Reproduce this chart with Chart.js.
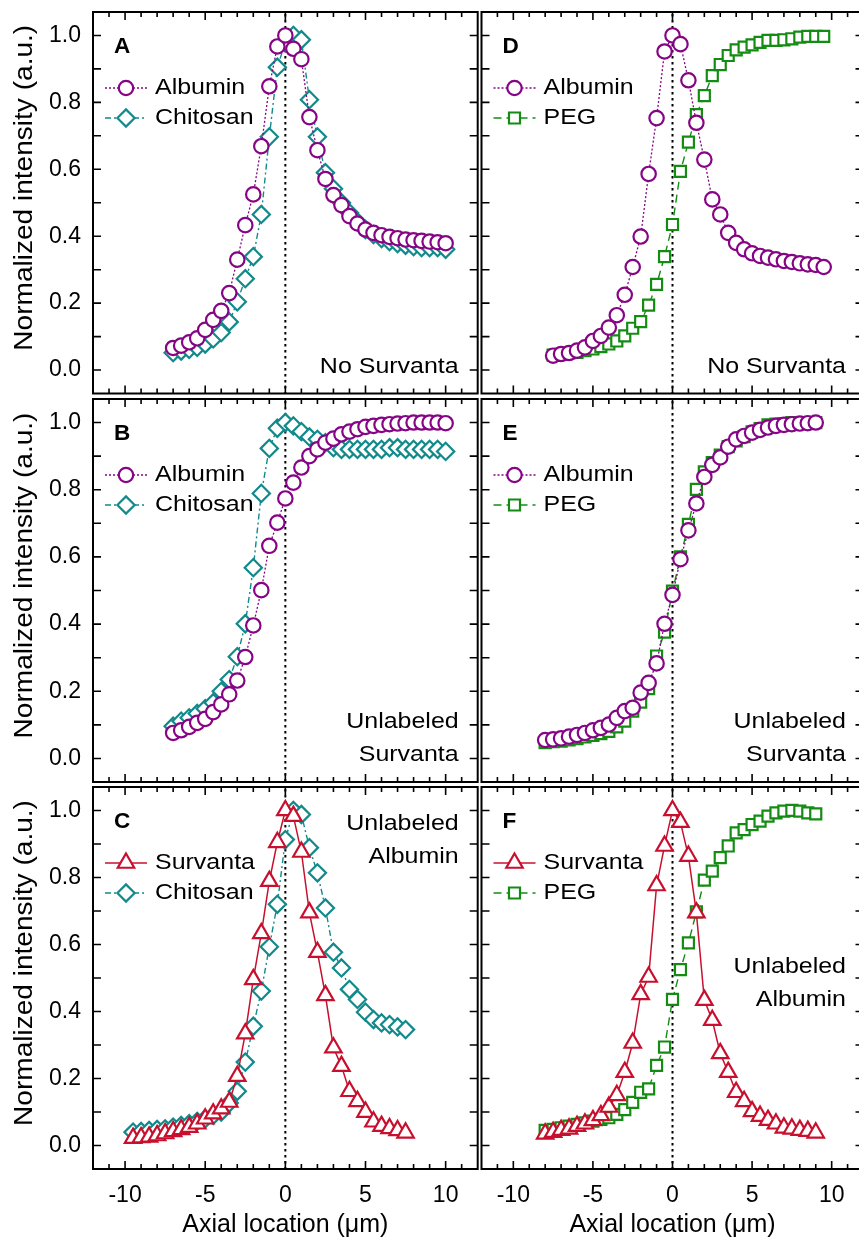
<!DOCTYPE html>
<html><head><meta charset="utf-8">
<script src="https://cdn.jsdelivr.net/npm/chart.js@4/dist/chart.umd.min.js"></script>
<style>
html,body{margin:0;padding:0;background:#fff;overflow:hidden;width:859px;height:1241px;position:relative;}
canvas{position:absolute;}
</style></head><body>
<canvas id="cA"></canvas><canvas id="cB"></canvas><canvas id="cC"></canvas>
<canvas id="cD"></canvas><canvas id="cE"></canvas><canvas id="cF"></canvas>
<script>
// ---------------- data ----------------
const xLabelVals = [-10, -5, 0, 5, 10];
const yLabelVals = [0, 0.2, 0.4, 0.6, 0.8, 1.0];
const xTickVals = [-11,-10,-9,-8,-7,-6,-5,-4,-3,-2,-1,0,1,2,3,4,5,6,7,8,9,10,11];
const yTickVals = [0,0.1,0.2,0.3,0.4,0.5,0.6,0.7,0.8,0.9,1.0];

const xA = [-7,-6.5,-6,-5.5,-5,-4.5,-4,-3.5,-3,-2.5,-2,-1.5,-1,-0.5,0,0.5,1,1.5,2,2.5,3,3.5,4,4.5,5,5.5,6,6.5,7,7.5,8,8.5,9,9.5,10];
const albuminA = [0.066,0.073,0.083,0.095,0.12,0.15,0.177,0.23,0.33,0.433,0.525,0.669,0.848,0.967,1.0,0.96,0.929,0.756,0.657,0.571,0.523,0.493,0.46,0.438,0.42,0.41,0.403,0.398,0.394,0.39,0.388,0.386,0.384,0.382,0.379];
const chitosanA = [0.052,0.057,0.062,0.068,0.078,0.093,0.112,0.144,0.204,0.273,0.339,0.465,0.697,0.905,0.98,1.0,0.987,0.808,0.697,0.59,0.542,0.5,0.47,0.443,0.42,0.405,0.393,0.384,0.378,0.373,0.369,0.366,0.366,0.366,0.361];

const xB = [-7,-6.5,-6,-5.5,-5,-4.5,-4,-3.5,-3,-2.5,-2,-1.5,-1,-0.5,0,0.5,1,1.5,2,2.5,3,3.5,4,4.5,5,5.5,6,6.5,7,7.5,8,8.5,9,9.5,10];
const albuminB = [0.076,0.084,0.094,0.106,0.118,0.138,0.161,0.191,0.232,0.302,0.396,0.501,0.633,0.702,0.774,0.821,0.866,0.9,0.92,0.94,0.952,0.965,0.973,0.98,0.987,0.99,0.993,0.995,0.997,0.998,1.0,1.0,1.0,1.0,0.998];
const chitosanB = [0.096,0.111,0.121,0.134,0.148,0.166,0.2,0.235,0.303,0.401,0.568,0.789,0.923,0.983,1.0,0.99,0.973,0.957,0.95,0.94,0.925,0.92,0.92,0.92,0.92,0.92,0.92,0.925,0.925,0.92,0.92,0.92,0.92,0.92,0.914];

const xC = [-9.5,-9,-8.5,-8,-7.5,-7,-6.5,-6,-5.5,-5,-4.5,-4,-3.5,-3,-2.5,-2,-1.5,-1,-0.5,0,0.5,1,1.5,2,2.5,3,3.5,4,4.5,5,5.5,6,6.5,7,7.5];
const survantaC = [0.022,0.024,0.026,0.03,0.036,0.042,0.048,0.055,0.065,0.08,0.095,0.11,0.13,0.207,0.334,0.496,0.633,0.789,0.905,1.0,0.983,0.876,0.695,0.577,0.448,0.292,0.237,0.162,0.132,0.1,0.071,0.058,0.051,0.045,0.038];
const chitosanC = [0.04,0.042,0.045,0.048,0.05,0.055,0.06,0.065,0.072,0.08,0.09,0.1,0.127,0.162,0.249,0.356,0.461,0.593,0.72,0.913,1.0,0.988,0.889,0.814,0.709,0.577,0.53,0.466,0.436,0.398,0.376,0.366,0.361,0.354,0.346];

const xD = [-7.5,-7,-6.5,-6,-5.5,-5,-4.5,-4,-3.5,-3,-2.5,-2,-1.5,-1,-0.5,0,0.5,1,1.5,2,2.5,3,3.5,4,4.5,5,5.5,6,6.5,7,7.5,8,8.5,9,9.5];
const albuminD = [0.043,0.048,0.051,0.058,0.068,0.087,0.102,0.127,0.164,0.225,0.308,0.399,0.586,0.753,0.952,1.0,0.974,0.866,0.739,0.629,0.51,0.465,0.41,0.38,0.361,0.349,0.341,0.336,0.331,0.326,0.323,0.319,0.316,0.314,0.308];
const pegD = [0.045,0.048,0.051,0.053,0.058,0.063,0.07,0.078,0.087,0.102,0.125,0.145,0.194,0.256,0.339,0.435,0.594,0.681,0.763,0.82,0.88,0.913,0.94,0.957,0.965,0.972,0.979,0.985,0.985,0.987,0.99,0.995,0.997,0.997,0.997];

const xE = [-8,-7.5,-7,-6.5,-6,-5.5,-5,-4.5,-4,-3.5,-3,-2.5,-2,-1.5,-1,-0.5,0,0.5,1,1.5,2,2.5,3,3.5,4,4.5,5,5.5,6,6.5,7,7.5,8,8.5,9];
const albuminE = [0.055,0.057,0.06,0.065,0.07,0.076,0.084,0.091,0.101,0.121,0.141,0.151,0.196,0.225,0.283,0.401,0.487,0.593,0.679,0.759,0.838,0.874,0.896,0.928,0.95,0.96,0.97,0.978,0.985,0.99,0.993,0.995,0.997,0.998,1.0];
const pegE = [0.047,0.05,0.052,0.055,0.059,0.064,0.069,0.074,0.081,0.094,0.111,0.141,0.168,0.208,0.305,0.376,0.498,0.6,0.697,0.801,0.853,0.881,0.903,0.928,0.945,0.958,0.972,0.982,0.993,0.995,0.997,1.0,1.0,0.998,1.0];

const xF = [-8,-7.5,-7,-6.5,-6,-5.5,-5,-4.5,-4,-3.5,-3,-2.5,-2,-1.5,-1,-0.5,0,0.5,1,1.5,2,2.5,3,3.5,4,4.5,5,5.5,6,6.5,7,7.5,8,8.5,9];
const survantaF = [0.035,0.04,0.046,0.05,0.058,0.065,0.075,0.09,0.115,0.15,0.219,0.306,0.451,0.503,0.776,0.894,1.0,0.965,0.864,0.695,0.434,0.374,0.275,0.219,0.159,0.132,0.102,0.088,0.076,0.065,0.053,0.05,0.046,0.043,0.038];
const pegF = [0.045,0.048,0.053,0.058,0.063,0.068,0.073,0.078,0.083,0.093,0.107,0.129,0.159,0.169,0.239,0.294,0.436,0.525,0.605,0.697,0.792,0.819,0.859,0.894,0.933,0.943,0.958,0.968,0.983,0.993,0.998,1.0,0.998,0.993,0.99];

// ---------------- styles ----------------
const FONT = '"Liberation Sans", Arial, Helvetica, sans-serif';
const STY = {
  'Albumin':  {color:'#850585', ps:'circle',   r:7.2, dash:[2,2],      lw:1.3},
  'Chitosan': {color:'#12898a', ps:'rectRot',  r:8.6, dash:[6,3,2,3],  lw:1.4},
  'PEG':      {color:'#148c14', ps:'rect',     r:7.8, dash:[8,5],      lw:1.4},
  'Survanta': {color:'#c8102e', ps:'triangle', r:9.5, dash:[],         lw:1.5}
};
function series(label, xs, ys) {
  const s = STY[label];
  return {
    label, data: xs.map((x, i) => ({x, y: ys[i]})), showLine: true, tension: 0, fill: false,
    borderColor: s.color, borderWidth: s.lw, borderDash: s.dash,
    pointStyle: s.ps, pointRadius: s.r, pointHoverRadius: s.r, pointBorderWidth: 2.2,
    pointBorderColor: s.color, pointBackgroundColor: '#ffffff'
  };
}

function drawMarker(ctx, d, x, y) {
  const opts = {pointStyle: d.pointStyle, radius: d.pointRadius, borderWidth: d.pointBorderWidth, rotation: 0};
  if (Chart.helpers && Chart.helpers.drawPoint) { Chart.helpers.drawPoint(ctx, opts, x, y); return; }
  ctx.beginPath(); ctx.arc(x, y, d.pointRadius, 0, Math.PI * 2); ctx.fill(); ctx.stroke();
}
function txt(ctx, s, x, y, font, align, sx) {
  ctx.save(); ctx.font = font; ctx.textAlign = align; ctx.textBaseline = 'alphabetic';
  ctx.fillStyle = '#000'; ctx.translate(x, y); ctx.scale(sx, 1); ctx.fillText(s, 0, 0); ctx.restore();
}
function noPad(s) { s.paddingTop = 0; s.paddingBottom = 0; s.paddingLeft = 0; s.paddingRight = 0; }

const deco = {
  id: 'panelDeco',
  beforeDatasetsDraw(chart) {
    const ctx = chart.ctx, a = chart.chartArea;
    const px = chart.scales.x.getPixelForValue(0);
    ctx.save(); ctx.strokeStyle = '#000'; ctx.lineWidth = 2; ctx.setLineDash([2.5, 3.5]);
    ctx.beginPath(); ctx.moveTo(px, a.top + 2); ctx.lineTo(px, a.bottom); ctx.stroke(); ctx.restore();
  },
  afterDraw(chart, args, o) {
    const ctx = chart.ctx, a = chart.chartArea, xs = chart.scales.x, ys = chart.scales.y;
    ctx.save();
    ctx.strokeStyle = '#000'; ctx.lineWidth = 1.6; ctx.setLineDash([]);
    ctx.beginPath();
    xTickVals.forEach(v => {
      const p = xs.getPixelForValue(v), len = (v % 5 === 0) ? 8 : 5;
      ctx.moveTo(p, a.bottom); ctx.lineTo(p, a.bottom - len);
      ctx.moveTo(p, a.top); ctx.lineTo(p, a.top + len);
    });
    yTickVals.forEach(v => {
      const p = ys.getPixelForValue(v);
      ctx.moveTo(a.left, p); ctx.lineTo(a.left + 8, p);
      ctx.moveTo(a.right, p); ctx.lineTo(a.right - 8, p);
    });
    ctx.stroke();
    ctx.lineWidth = 2;
    ctx.strokeRect(a.left, a.top, a.right - a.left, a.bottom - a.top);
    ctx.restore();

    // legend
    chart.data.datasets.forEach((d, i) => {
      const y = a.top + 76 + i * 30;
      ctx.save();
      ctx.strokeStyle = d.borderColor; ctx.lineWidth = d.borderWidth; ctx.setLineDash(d.borderDash);
      ctx.beginPath(); ctx.moveTo(a.left + 12, y); ctx.lineTo(a.left + 54, y); ctx.stroke();
      ctx.setLineDash([]); ctx.fillStyle = '#fff'; ctx.strokeStyle = d.pointBorderColor; ctx.lineWidth = d.pointBorderWidth;
      drawMarker(ctx, d, a.left + 33, y);
      ctx.restore();
      txt(ctx, d.label, a.left + 62, y + 6, '22.5px ' + FONT, 'left', 1.11);
    });

    // panel letter
    txt(ctx, o.letter, a.left + 21, a.top + 41, 'bold 21.5px ' + FONT, 'left', 1.05);

    // notes
    o.notes.forEach(n => {
      const y = n.ref === 'top' ? a.top + n.dy : a.bottom - n.dy;
      txt(ctx, n.text, a.right - o.noteRight, y, '22.5px ' + FONT, 'right', 1.11);
    });

    // y title
    if (o.yTitle) {
      ctx.save(); ctx.fillStyle = '#000'; ctx.font = '25.5px ' + FONT; ctx.textAlign = 'center'; ctx.textBaseline = 'alphabetic';
      ctx.translate(32, (a.top + a.bottom) / 2 - 15); ctx.rotate(-Math.PI / 2); ctx.scale(1.1, 1);
      ctx.fillText('Normalized intensity (a.u.)', 0, 0); ctx.restore();
    }
  }
};

function makeChart(id, cfg) {
  const c = document.getElementById(id);
  c.width = cfg.w; c.height = cfg.h;
  c.style.left = cfg.l + 'px'; c.style.top = cfg.t + 'px';
  c.style.width = cfg.w + 'px'; c.style.height = cfg.h + 'px';
  new Chart(c, {
    type: 'scatter',
    data: {datasets: cfg.datasets},
    options: {
      responsive: false, animation: false, devicePixelRatio: 1,
      layout: {padding: cfg.pad, autoPadding: false},
      plugins: {legend: {display: false}, tooltip: {enabled: false}, panelDeco: cfg.deco},
      scales: {
        x: {
          type: 'linear', min: -12, max: 12, display: cfg.showX,
          grid: {display: false, drawTicks: false}, border: {display: false},
          afterBuildTicks: s => { s.ticks = xLabelVals.map(v => ({value: v})); },
          afterFit: s => { noPad(s); if (cfg.showX) s.height = 72; },
          ticks: {font: {family: FONT, size: 23}, color: '#000', padding: 13, maxRotation: 0, autoSkip: false, callback: v => String(v)},
          title: {display: cfg.showX, text: 'Axial location (μm)', font: {family: FONT, size: 25}, color: '#000', padding: {top: 0, bottom: 1}}
        },
        y: {
          type: 'linear', min: -0.07, max: 1.07, display: cfg.showY,
          grid: {display: false, drawTicks: false}, border: {display: false},
          afterBuildTicks: s => { s.ticks = yLabelVals.map(v => ({value: v})); },
          afterFit: s => { noPad(s); if (cfg.showY) s.width = 93; },
          ticks: {font: {family: FONT, size: 23}, color: '#000', padding: 12, autoSkip: false, callback: v => Number(v).toFixed(1)}
        }
      }
    },
    plugins: [deco]
  });
}

const COLL = {l: 0, w: 480, left: 0, right: 2.3, showY: true, noteRight: 19};
const COLR = {l: 480, w: 386, left: 1.5, right: 2.5, showY: false, noteRight: 17.5};
const ROWS = [
  {t: 0, h: 396, top: 12, bottom: 2.5, showX: false},
  {t: 396, h: 388, top: 3, bottom: 2, showX: false},
  {t: 784, h: 457, top: 3, bottom: 0, showX: true}
];
function panel(id, col, row, datasets, letter, notes) {
  makeChart(id, {
    l: col.l, w: col.w, t: row.t, h: row.h, showX: row.showX, showY: col.showY,
    pad: {left: col.left, right: col.right, top: row.top, bottom: row.bottom},
    datasets,
    deco: {letter, notes, noteRight: col.noteRight, yTitle: col.showY}
  });
}

panel('cA', COLL, ROWS[0], [series('Albumin', xA, albuminA), series('Chitosan', xA, chitosanA)], 'A',
  [{text: 'No Survanta', ref: 'bottom', dy: 21}]);
panel('cB', COLL, ROWS[1], [series('Albumin', xB, albuminB), series('Chitosan', xB, chitosanB)], 'B',
  [{text: 'Unlabeled', ref: 'bottom', dy: 54}, {text: 'Survanta', ref: 'bottom', dy: 21.5}]);
panel('cC', COLL, ROWS[2], [series('Survanta', xC, survantaC), series('Chitosan', xC, chitosanC)], 'C',
  [{text: 'Unlabeled', ref: 'top', dy: 42.5}, {text: 'Albumin', ref: 'top', dy: 75.5}]);
panel('cD', COLR, ROWS[0], [series('Albumin', xD, albuminD), series('PEG', xD, pegD)], 'D',
  [{text: 'No Survanta', ref: 'bottom', dy: 21}]);
panel('cE', COLR, ROWS[1], [series('Albumin', xE, albuminE), series('PEG', xE, pegE)], 'E',
  [{text: 'Unlabeled', ref: 'bottom', dy: 54}, {text: 'Survanta', ref: 'bottom', dy: 21.5}]);
panel('cF', COLR, ROWS[2], [series('Survanta', xF, survantaF), series('PEG', xF, pegF)], 'F',
  [{text: 'Unlabeled', ref: 'top', dy: 185.5}, {text: 'Albumin', ref: 'top', dy: 219}]);
</script>
</body></html>
